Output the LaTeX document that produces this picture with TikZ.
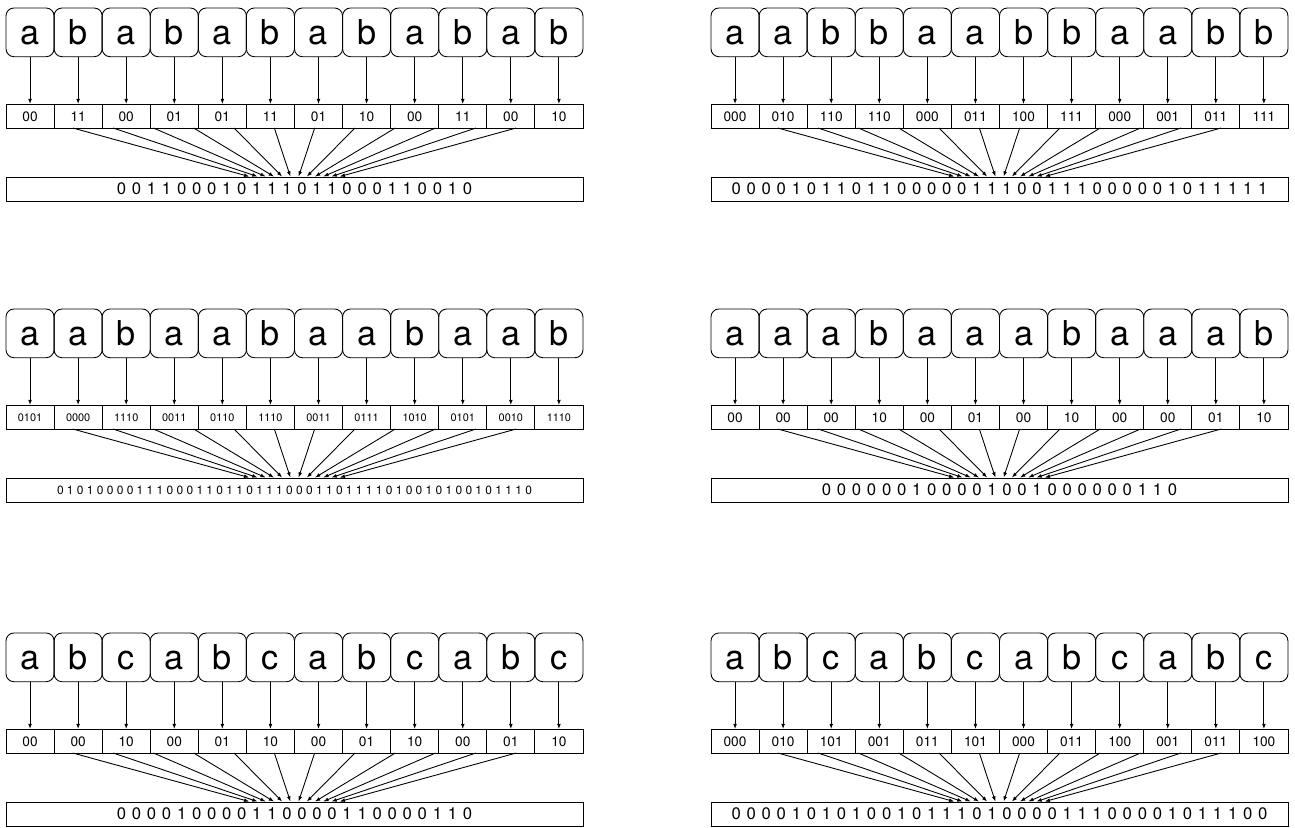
\documentclass[tikz,border=0pt]{standalone}
\usepackage{fontspec}
\setmainfont{TeX Gyre Heros}
\usetikzlibrary{calc,arrows.meta}

\tikzset{
  sym/.style={draw, rounded corners=4.5pt, minimum width=0.9616cm, minimum height=0.974cm, inner sep=0pt,
    text height=13.9pt, text depth=0pt, font=\fontsize{19.5}{20}\selectfont},
  code/.style={draw, minimum width=0.9616cm, minimum height=0.47cm, inner sep=0pt, font=\fontsize{7.8}{8}\selectfont},
  smallcode/.style={code, font=\fontsize{6.2}{7}\selectfont},
  bits/.style={draw, minimum width=11.54cm, minimum height=0.48cm, inner sep=0pt, font=\fontsize{9.5}{10}\selectfont},
  smallbits/.style={bits, font=\fontsize{6.8}{7}\selectfont},
  arr/.style={-{Latex[length=3pt,width=2.2pt]}},
}

% one strip: symbols, their codes, and the joined string (#7 = gap between digits)
\newcommand{\codestrip}[7]{%
  \foreach \sy [count=\i from 0] in {#2}
    \node[sym] (#1s\i) at (24.04+48.08*\i, 24.35) {\sy};
  \foreach \cd [count=\i from 0] in {#3}
    \node[#5] (#1c\i) at (24.04+48.08*\i, 108.25) {\cd};
  \node[#6] (#1b) at (288.5, 181) {\spaceskip=#7\relax #4};
  \foreach \i in {0,...,11} {
    \draw[arr] (#1s\i) -- (#1c\i);
    \coordinate (#1t\i) at ($(#1c\i.center)!0.1615!(#1b.center)$);
    \draw[arr] (#1t\i) -- (#1b);
  }
}

\begin{document}
\begin{tikzpicture}[x=0.02cm, y=-0.02cm, line width=0.5pt]
    \useasboundingbox (0,0) rectangle (1295,828);

    % Top left
    \begin{scope}[shift={(6,8)}]
        \codestrip{ab}{a,b,a,b,a,b,a,b,a,b,a,b}{00,11,00,01,01,11,01,10,00,11,00,10}
            {0 0 1 1 0 0 0 1 0 1 1 1 0 1 1 0 0 0 1 1 0 0 1 0}{code}{bits}{3.28pt}
    \end{scope}

    % Top right
    \begin{scope}[shift={(711,8)}]
        \codestrip{aabb}{a,a,b,b,a,a,b,b,a,a,b,b}{000,010,110,110,000,011,100,111,000,001,011,111}
            {0 0 0 0 1 0 1 1 0 1 1 0 0 0 0 0 1 1 1 0 0 1 1 1 0 0 0 0 0 1 0 1 1 1 1 1}{code}{bits}{3.28pt}
    \end{scope}

    % Middle left
    \begin{scope}[shift={(6,309)}]
        \codestrip{aab}{a,a,b,a,a,b,a,a,b,a,a,b}{0101,0000,1110,0011,0110,1110,0011,0111,1010,0101,0010,1110}
            {0 1 0 1 0 0 0 0 1 1 1 0 0 0 1 1 0 1 1 0 1 1 1 0 0 0 1 1 0 1 1 1 1 0 1 0 0 1 0 1 0 0 1 0 1 1 1 0}{smallcode}{smallbits}{1.89pt}
    \end{scope}

    % Middle right
    \begin{scope}[shift={(711,309)}]
        \codestrip{aaab}{a,a,a,b,a,a,a,b,a,a,a,b}{00,00,00,10,00,01,00,10,00,00,01,10}
            {0 0 0 0 0 0 1 0 0 0 0 1 0 0 1 0 0 0 0 0 0 1 1 0}{code}{bits}{3.28pt}
    \end{scope}

    % Bottom left
    \begin{scope}[shift={(6,633)}]
        \codestrip{abcTwo}{a,b,c,a,b,c,a,b,c,a,b,c}{00,00,10,00,01,10,00,01,10,00,01,10}
            {0 0 0 0 1 0 0 0 0 1 1 0 0 0 0 1 1 0 0 0 0 1 1 0}{code}{bits}{3.28pt}
    \end{scope}

    % Bottom right
    \begin{scope}[shift={(711,633)}]
        \codestrip{abcThree}{a,b,c,a,b,c,a,b,c,a,b,c}{000,010,101,001,011,101,000,011,100,001,011,100}
            {0 0 0 0 1 0 1 0 1 0 0 1 0 1 1 1 0 1 0 0 0 0 1 1 1 0 0 0 0 1 0 1 1 1 0 0}{code}{bits}{3.28pt}
    \end{scope}
\end{tikzpicture}
\end{document}
